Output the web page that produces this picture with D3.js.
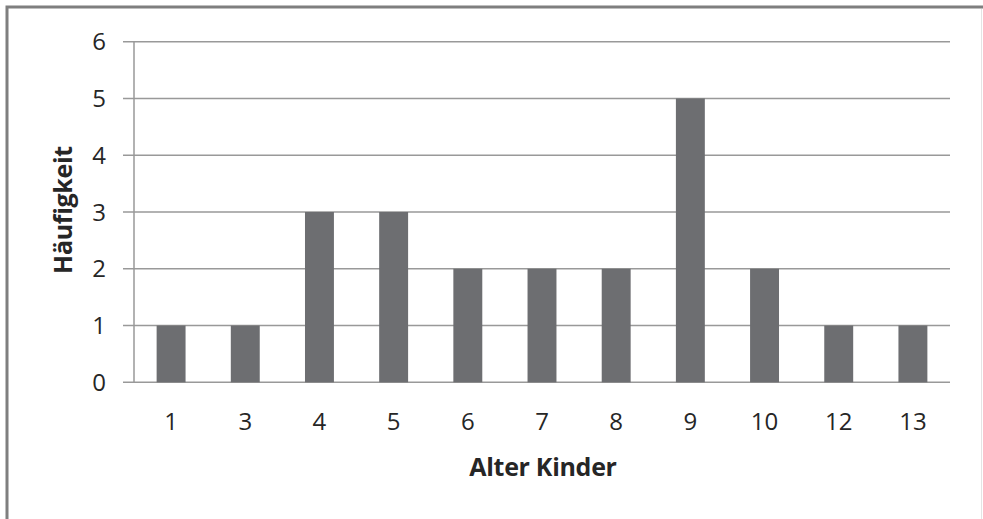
<!DOCTYPE html>
<html><head><meta charset="utf-8">
<script src="https://cdn.jsdelivr.net/npm/d3@7"></script>
<style>body{margin:0;background:#fff}svg{display:block}</style>
</head><body>
<script>
const categories = ["1","3","4","5","6","7","8","9","10","12","13"];
const values = [1,1,3,3,2,2,2,5,2,1,1];
const yTicks = [0,1,2,3,4,5,6];
const xTitle = "Alter Kinder";
const yTitle = "Häufigkeit";

(function(){
const W = 983, H = 519;
const svg = d3.select("body").append("svg").attr("width", W).attr("height", H);
const font = "'Open Sans', sans-serif";

// frame
svg.append("rect").attr("x", 0).attr("y", 0).attr("width", W).attr("height", H).attr("fill", "#fff");
svg.append("path").attr("d", `M7,${H} V7 H${W}`).attr("fill", "none").attr("stroke", "#7f7f7f").attr("stroke-width", 3);
svg.append("line").attr("x1", W-1.5).attr("x2", W-1.5).attr("y1", 9).attr("y2", H).attr("stroke", "#e4e4e4").attr("stroke-width", 1);

const pL = 134, pR = 950, pT = 41.7, pB = 382.3;
const x = d3.scaleBand().domain(categories).range([pL, pR]).paddingInner(0.61).paddingOuter(0.305);
const y = d3.scaleLinear().domain([0, 6]).range([pB, pT]);

// gridlines
svg.append("g").selectAll("line").data(yTicks).join("line")
  .attr("x1", pL - 11).attr("x2", pR)
  .attr("y1", d => y(d)).attr("y2", d => y(d))
  .attr("stroke", "#999").attr("stroke-width", 1.5);
// y axis line
svg.append("line").attr("x1", pL).attr("x2", pL).attr("y1", pT).attr("y2", pB)
  .attr("stroke", "#999").attr("stroke-width", 1.5);

// bars
svg.append("g").selectAll("rect").data(values).join("rect")
  .attr("x", (d, i) => x(categories[i]))
  .attr("width", x.bandwidth())
  .attr("y", d => y(d))
  .attr("height", d => y(0) - y(d))
  .attr("fill", "#6d6e71");

// y tick labels
svg.append("g").selectAll("text").data(yTicks).join("text")
  .attr("x", 106).attr("y", d => y(d)).attr("dy", "0.36em")
  .attr("text-anchor", "end").attr("font-family", font).attr("font-size", 24).attr("fill", "#262626")
  .text(d => d);

// x tick labels
svg.append("g").selectAll("text").data(categories).join("text")
  .attr("x", d => x(d) + x.bandwidth() / 2).attr("y", 430)
  .attr("text-anchor", "middle").attr("font-family", font).attr("font-size", 24).attr("fill", "#262626")
  .text(d => d);

// titles
svg.append("text").attr("x", 543).attr("y", 476).attr("text-anchor", "middle")
  .attr("font-family", font).attr("font-weight", "bold").attr("font-size", 25).attr("letter-spacing", -0.3).attr("fill", "#262626")
  .text(xTitle);
svg.append("text").attr("transform", "translate(72,210) rotate(-90)").attr("text-anchor", "middle")
  .attr("font-family", font).attr("font-weight", "bold").attr("font-size", 25).attr("letter-spacing", -0.3).attr("fill", "#262626")
  .text(yTitle);
})();
</script>
</body></html>
